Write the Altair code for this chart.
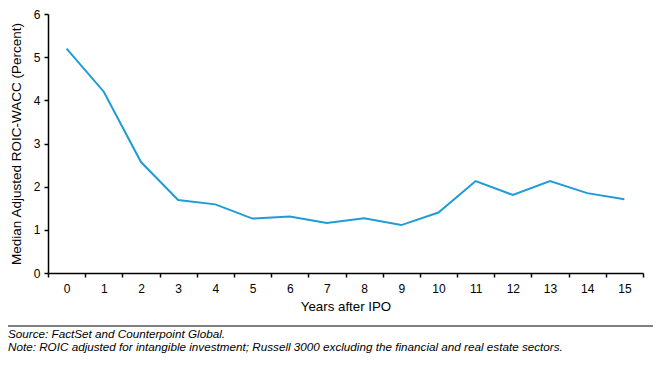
import altair as alt
import pandas as pd

years = [str(i) for i in range(16)]
values = [5.2, 4.2, 2.57, 1.69, 1.59, 1.26, 1.31, 1.16, 1.27, 1.11, 1.4, 2.13, 1.81, 2.13, 1.85, 1.71]

x_title = "Years after IPO"
y_title = "Median Adjusted ROIC-WACC (Percent)"
source_note = "Source: FactSet and Counterpoint Global."
note_text = "Note: ROIC adjusted for intangible investment; Russell 3000 excluding the financial and real estate sectors."

df = pd.DataFrame({"year": years, "value": values})

FONT = "Liberation Sans"
W, H = 595, 259

line = alt.Chart(df).mark_line(color="#1f9bd7", strokeWidth=2).encode(
    x=alt.X("year:O", sort=years,
            scale=alt.Scale(type="band", paddingInner=0, paddingOuter=0),
            axis=alt.Axis(title=x_title, labelAngle=0, tickBand="extent",
                          tickSize=4, labelPadding=6, titlePadding=5,
                          labelFontSize=12, titleFontSize=13.3)),
    y=alt.Y("value:Q", scale=alt.Scale(domain=[0, 6], nice=False),
            axis=alt.Axis(title=y_title, values=[0, 1, 2, 3, 4, 5, 6], grid=False,
                          tickSize=4, labelPadding=4, titlePadding=10,
                          labelFontSize=12, titleFontSize=13.5)),
)

one = alt.Data(values=[{"a": 1}])

top_rule = alt.Chart(one).mark_rule(color="#000000", strokeWidth=1).encode(
    x=alt.value(-40), x2=alt.value(605), y=alt.value(312))
bottom_rule = alt.Chart(one).mark_rule(color="#888888", strokeWidth=1).encode(
    x=alt.value(-40), x2=alt.value(605), y=alt.value(355))

src = alt.Chart(one).mark_text(font=FONT, fontSize=11.7, fontStyle="italic", align="left",
                               baseline="alphabetic", color="#000000").encode(
    x=alt.value(-40), y=alt.value(324), text=alt.value(source_note))
nt = alt.Chart(one).mark_text(font=FONT, fontSize=11.7, fontStyle="italic", align="left",
                              baseline="alphabetic", color="#000000").encode(
    x=alt.value(-40), y=alt.value(337), text=alt.value(note_text))

chart = alt.layer(line, top_rule, bottom_rule, src, nt).properties(
    width=W, height=H,
    autosize=alt.AutoSizeParams(type="none"),
    padding={"left": 40, "top": 6, "right": 10, "bottom": 92},
).configure_view(stroke=None).configure_axis(
    labelFont=FONT, titleFont=FONT,
    titleFontWeight="normal", labelColor="#000000", titleColor="#000000",
    domainColor="#000000", tickColor="#000000", domainWidth=1.5, tickWidth=1.5,
)

chart.save("out.html", embed_options={"renderer": "svg", "actions": False})
